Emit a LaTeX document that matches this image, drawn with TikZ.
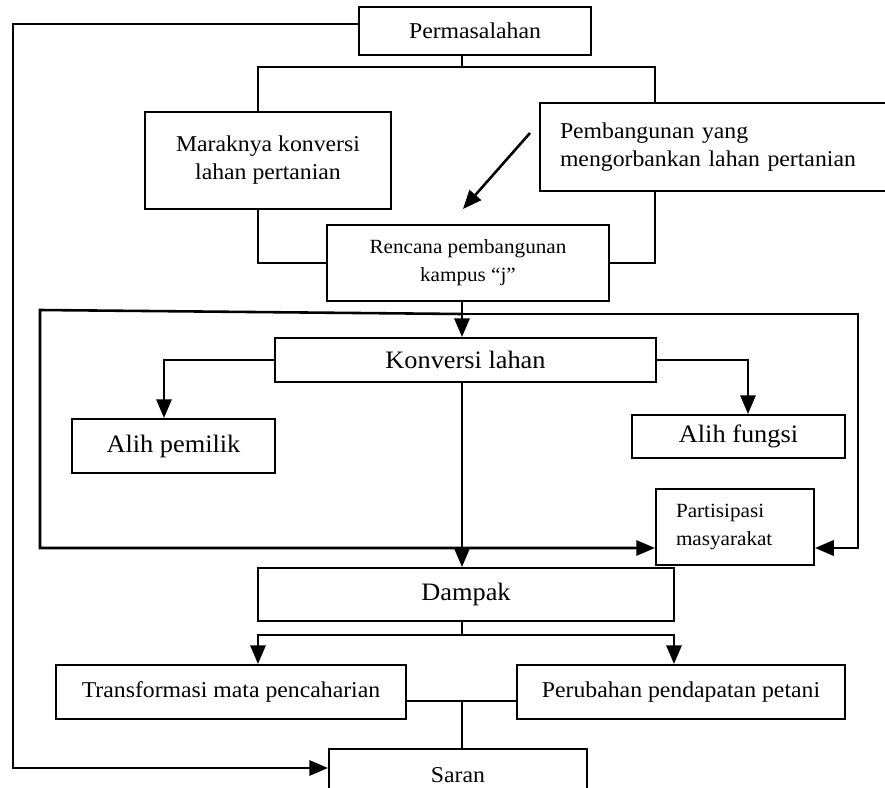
\documentclass[tikz,border=0pt]{standalone}
\usepackage{fontspec}
\setmainfont{Liberation Serif}[FakeStretch=1.05]
\usetikzlibrary{arrows.meta,positioning,calc}
\newcommand{\fntbase}{\fontsize{19.3}{24}\selectfont}
\newcommand{\fntbig}{\fontsize{21.4}{26}\selectfont}
\newcommand{\fntsmall}{\fontsize{17.2}{24}\selectfont}
\tikzset{
  >={Triangle[length=16pt,width=13pt]},
  every picture/.append style={line width=1.7pt},
}
\tikzset{
  box/.style={draw, rectangle, inner sep=0pt, align=center, font=\fntbase},
  leftbox/.style={box, anchor=west, align=left, inner xsep=0.6cm},
  wire/.style={line width=1.7pt},
  arrow/.style={->, line width=2.2pt}
}

\begin{document}
\begin{tikzpicture}[x=0.03cm, y=-0.03cm]
\useasboundingbox (0,0) rectangle (885,788);

\node[box, minimum width=6.96cm, minimum height=1.44cm] (perm) at (475,31) {Permasalahan};
\node[box, minimum width=7.38cm, minimum height=2.91cm] (marak) at (268,160.5) {Maraknya konversi\\lahan pertanian};
\node[leftbox, text width=9.48cm, minimum height=2.64cm] (pemb) at (539,147) {Pembangunan yang\\mengorbankan lahan pertanian};
\node[box, font=\fntsmall, minimum width=8.46cm, minimum height=2.28cm] (renc) at (468,263) {Rencana pembangunan\\kampus “j”};
\node[box, font=\fntbig, minimum width=11.43cm, minimum height=1.32cm] (konv) at (465.5,360) {Konversi lahan};
\node[box, font=\fntbig, minimum width=6.09cm, minimum height=1.62cm] (alihp) at (173.5,446) {Alih pemilik};
\node[box, font=\fntbig, minimum width=6.39cm, minimum height=1.29cm] (alihf) at (738.5,436.5) {Alih fungsi};
\node[leftbox, font=\fntsmall, text width=3.54cm, minimum height=2.28cm] (part) at (655,527) {Partisipasi\\masyarakat};
\node[box, font=\fntbig, minimum width=12.48cm, minimum height=1.59cm] (dampak) at (466,594.5) {Dampak};
\node[box, minimum width=10.5cm, minimum height=1.62cm] (trans) at (231,692) {Transformasi mata pencaharian};
\node[box, minimum width=9.84cm, minimum height=1.62cm] (perub) at (681,692) {Perubahan pendapatan petani};
\node[box, minimum width=7.74cm, minimum height=1.56cm] (saran) at (458,775) {Saran};

% junction points
\coordinate (lt) at (13,24);
\coordinate (lb) at (13,768);
\coordinate (c1) at (462,67);
\coordinate (jl) at (258,67);
\coordinate (jr) at (655,67);
\coordinate (ml) at (258,263);
\coordinate (mr) at (655,263);
\coordinate (d1) at (530,133);
\coordinate (d2) at (463,209);
\coordinate (ftl) at (40,310);
\coordinate (ftm) at (462,314);
\coordinate (ftr) at (858,314);
\coordinate (fbl) at (40,548);
\coordinate (fbr) at (858,548);
\coordinate (kl) at (164,360);
\coordinate (kr) at (748,360);
\coordinate (dc) at (462,635);
\coordinate (dl) at (258,635);
\coordinate (dr) at (674,635);
\coordinate (tj) at (462,701);

\draw[wire] (perm.south -| c1) -- (c1);
\draw[wire] (jl |- marak.north) -- (jl) -- (jr) -- (jr |- pemb.north);
\draw[wire] (jl |- marak.south) -- (ml) -- (renc.west |- ml);
\draw[wire] (jr |- pemb.south) -- (mr) -- (renc.east |- mr);
\draw[arrow] (d1) -- (d2);
\draw[arrow] (renc.south -| c1) -- (konv.north -| c1);

% outer frame
\draw[arrow] (ftm) -- (ftl) -- (fbl) -- (part.west |- fbl);
\draw[arrow] (ftm) -- (ftr) -- (fbr) -- (part.east |- fbr);

\draw[arrow] (konv.west) -- (kl) -- (kl |- alihp.north);
\draw[arrow] (konv.east) -- (kr) -- (kr |- alihf.north);
\draw[arrow] (konv.south -| c1) -- (dampak.north -| c1);

\draw[wire] (dampak.south -| dc) -- (dc);
\draw[arrow] (dc) -- (dl) -- (dl |- trans.north);
\draw[arrow] (dc) -- (dr) -- (dr |- perub.north);
\draw[wire] (trans.east |- tj) -- (perub.west |- tj);
\draw[wire] (tj) -- (tj |- saran.north);

\draw[arrow] (perm.west |- lt) -- (lt) -- (lb) -- (saran.west |- lb);
\end{tikzpicture}
\end{document}
